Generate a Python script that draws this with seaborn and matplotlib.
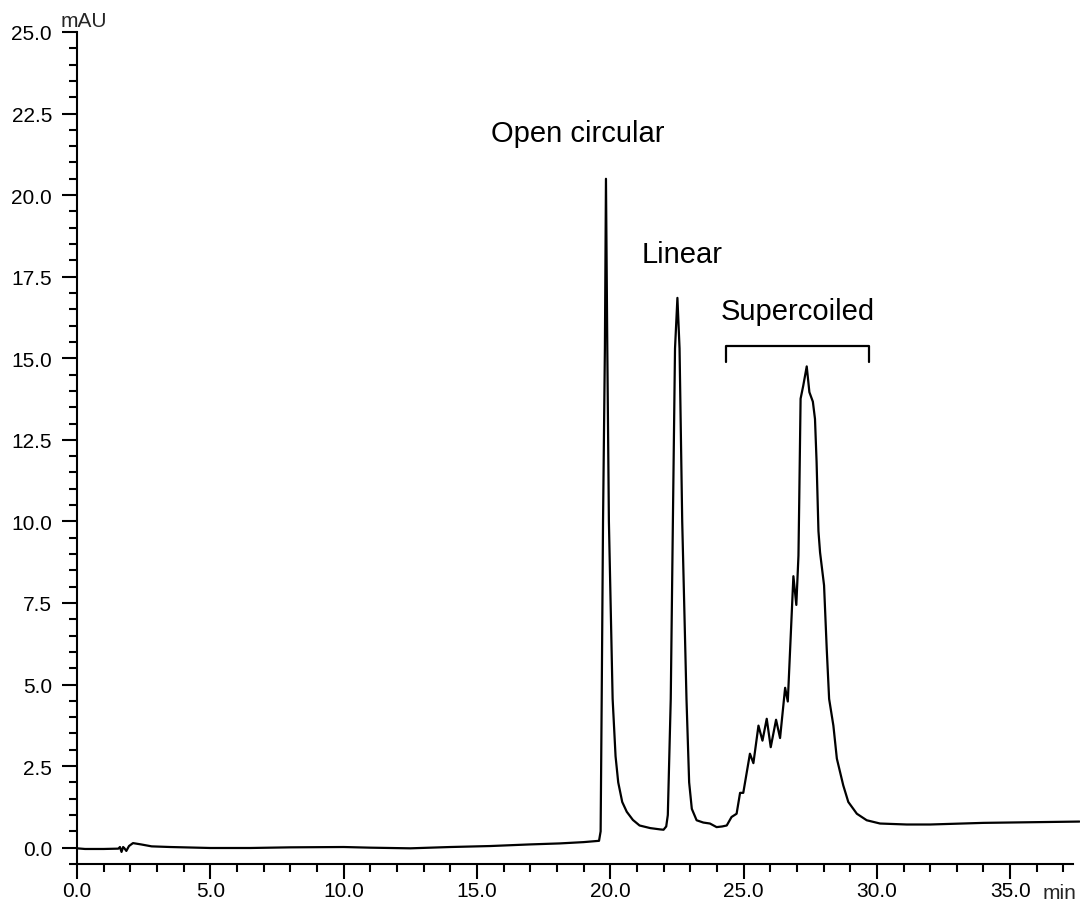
import matplotlib
matplotlib.use("Agg")
import matplotlib.pyplot as plt
import seaborn as sns
import pandas as pd
from matplotlib.ticker import MultipleLocator, FormatStrFormatter

# Retention time (min) and absorbance (mAU)
time_min = [0.0, 0.3, 1.0, 1.55, 1.61, 1.67, 1.73, 1.78, 1.85, 1.95, 2.1, 2.4, 2.8, 3.5,
            5.0, 6.5, 8.0, 10.0, 11.0, 12.5, 14.0, 15.5, 17.0, 18.1, 19.0, 19.58,
            19.64, 19.68, 19.73, 19.8, 19.84, 19.89, 19.95, 20.09, 20.2, 20.3, 20.45,
            20.62, 20.85, 21.1, 21.5, 21.87, 22.0, 22.1, 22.16, 22.27, 22.35, 22.43,
            22.52, 22.6, 22.7, 22.86, 22.96, 23.06, 23.24, 23.49, 23.74, 23.99,
            24.2, 24.37, 24.55, 24.74, 24.87, 24.99, 25.24, 25.37, 25.56, 25.71,
            25.87, 26.02, 26.22, 26.37, 26.56, 26.66, 26.87, 26.98, 27.06, 27.09,
            27.14, 27.24, 27.37, 27.47, 27.6, 27.68, 27.74, 27.81, 27.87, 28.02,
            28.12, 28.21, 28.37, 28.5, 28.74, 28.93, 29.25, 29.62, 30.12, 31.12,
            32.0, 34.0, 37.6]
absorb_mau = [-0.02, -0.04, -0.04, -0.03, 0.02, -0.13, 0.02, -0.02, -0.1, 0.05, 0.14, 0.1,
              0.04, 0.02, -0.01, -0.01, 0.01, 0.02, 0.0, -0.02, 0.02, 0.05, 0.1, 0.13,
              0.17, 0.21, 0.5, 4.56, 10.0, 15.3, 20.5, 15.3, 10.0, 4.56, 2.8, 2.0, 1.4,
              1.1, 0.85, 0.68, 0.6, 0.56, 0.55, 0.65, 1.0, 4.56, 10.0, 15.3, 16.85,
              15.3, 10.0, 4.56, 2.0, 1.19, 0.84, 0.77, 0.74, 0.63, 0.65, 0.68, 0.94,
              1.04, 1.68, 1.68, 2.88, 2.59, 3.74, 3.28, 3.95, 3.08, 3.92, 3.36, 4.9,
              4.48, 8.32, 7.44, 8.95, 10.69, 13.76, 14.16, 14.75, 13.96, 13.67, 13.14,
              11.82, 9.7, 9.05, 8.04, 6.1, 4.56, 3.74, 2.73, 1.91, 1.4, 1.04, 0.84,
              0.74, 0.71, 0.71, 0.76, 0.8]

peak_labels = ["Open circular", "Linear", "Supercoiled"]
label_x = [18.79, 22.71, 27.04]
label_y = [21.9, 18.2, 16.45]

bracket_x = [24.33, 24.33, 29.71, 29.71]
bracket_y = [14.89, 15.38, 15.38, 14.89]

sns.set_theme(style="ticks")
plt.rcParams['font.family'] = ['Liberation Sans', 'DejaVu Sans']

df = pd.DataFrame({"time": time_min, "mAU": absorb_mau})

fig = plt.figure(figsize=(10.8, 9.03), dpi=100)
ax = fig.add_axes([0.0713, 0.0421, 1.0 - 0.0713, 0.9635 - 0.0421])

sns.lineplot(data=df, x="time", y="mAU", ax=ax, color="black", linewidth=1.6,
             estimator=None, sort=False)

ax.plot(bracket_x, bracket_y, color="black", linewidth=1.6, solid_joinstyle="round")

for t, x, y in zip(peak_labels, label_x, label_y):
    ax.text(x, y, t, ha="center", va="center", fontsize=21, color="black")

ax.set_xlim(0, 37.62)
ax.set_ylim(-0.5, 25.0)
ax.set_xlabel("")
ax.set_ylabel("")

ax.xaxis.set_major_locator(MultipleLocator(5))
ax.xaxis.set_minor_locator(MultipleLocator(1))
ax.yaxis.set_major_locator(MultipleLocator(2.5))
ax.yaxis.set_minor_locator(MultipleLocator(0.5))
ax.xaxis.set_major_formatter(FormatStrFormatter("%.1f"))
ax.yaxis.set_major_formatter(FormatStrFormatter("%.1f"))
ax.set_xticks([0, 5, 10, 15, 20, 25, 30, 35])

ax.tick_params(axis="both", which="major", length=11, width=1.5, labelsize=15,
               color="black", labelcolor="black", direction="out")
ax.tick_params(axis="x", which="major", pad=1.5)
ax.tick_params(axis="y", which="major", pad=7)
ax.tick_params(axis="both", which="minor", length=6, width=1.5, color="black",
               direction="out")

for s in ["top", "right"]:
    ax.spines[s].set_visible(False)
for s in ["left", "bottom"]:
    ax.spines[s].set_linewidth(1.5)
    ax.spines[s].set_color("black")
ax.spines["bottom"].set_bounds(0, 37.36)

fig.text(61 / 1080, 1 - 27 / 903, "mAU", ha="left", va="baseline", fontsize=15)
fig.text(1043 / 1080, 1 - 899 / 903, "min", ha="left", va="baseline", fontsize=15)

fig.savefig("out.png", dpi=100, facecolor="white")
